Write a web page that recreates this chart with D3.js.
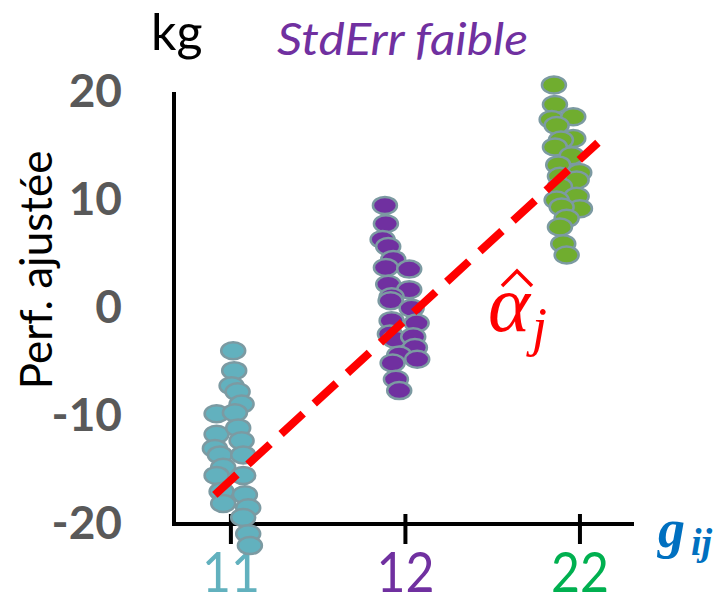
<!DOCTYPE html>
<html>
<head>
<meta charset="utf-8">
<script src="https://cdn.jsdelivr.net/npm/d3@7"></script>
<style>
  body { margin: 0; background: #fff; }
  text { font-family: Lato, "Open Sans", sans-serif; }
</style>
</head>
<body>
<svg id="chart"></svg>
<script>
// groups on the x axis
const groups = ["11", "12", "22"];
const groupColors = ["#62b1be", "#7030a0", "#70ad2f"];
const labelColors = ["#62b1be", "#7030a0", "#00b050"];
const yTicks = [-20, -10, 0, 10, 20];

// jitter (px offset from the group tick) and adjusted perf per group
const g11Dx = [2.3, 3.3, 0.7, 6.7, 10.7, -14.3, 4, -14.3, 7.3, -16, 10.7, -11, 12.3, -7.7, -14.3, 12.3, -9.3, 14, -7.7, 17.3, 12.3, 17.3, 19];
const g11Val = [-3.95, -5.8, -7.2, -7.75, -8.9, -9.8, -9.7, -11.7, -11.1, -13.0, -12.3, -13.6, -13.6, -14.75, -15.5, -15.5, -17.0, -17.3, -18.1, -18.5, -19.4, -20.9, -22.0];
const g12Dx = [-20.5, -19.5, -22.8, -17.2, -12.2, -19.5, 3.8, -17.2, 3.8, -13.8, -14.8, 6.2, -13.8, 11.2, -15.5, -10.5, 7.8, 9.5, -6.2, 11.8, -12.8, -9.5, -6.2];
const g12Val = [9.5, 7.8, 6.35, 5.7, 4.5, 3.75, 3.6, 2.2, 1.7, 1.05, 0.68, -0.03, -1.17, -1.4, -2.4, -2.9, -2.66, -3.65, -4.35, -4.75, -5.1, -6.6, -7.65];
const g22Dx = [-26, -25, -28.3, -6.7, -23.3, -6.7, -19, -25, -8.3, -21.7, -0.7, -20, -3.3, -20, -3.3, -23.3, 0, -18.3, -13.3, -20, -16.7, -13.3];
const g22Val = [20.65, 18.85, 17.45, 17.7, 16.9, 15.7, 15.55, 14.9, 14.1, 13.25, 12.55, 12.2, 11.85, 11.25, 10.35, 10.0, 9.2, 9.35, 8.3, 7.5, 5.95, 4.9];

// fitted slope line (group position, value)
const lineX = [0.908, 3.103];
const lineY = [-17.3, 15.3];

const width = 723, height = 592;
const svg = d3.select("#chart").attr("width", width).attr("height", height);

const x = d3.scaleLinear().domain([0.674, 3.304]).range([174, 633]);
const y = d3.scaleLinear().domain([-20, 20]).range([524, 92]);
const pxPerUnit = x(2) - x(1);

let points = [];
[[g11Dx, g11Val], [g12Dx, g12Val], [g22Dx, g22Val]].forEach(function (pair, gi) {
  pair[0].forEach(function (dx, i) {
    points.push({ pos: gi + 1 + dx / pxPerUnit, val: pair[1][i], g: gi });
  });
});

// y axis: labels only plus a plain line
const yAxis = svg.append("g")
  .attr("transform", "translate(174,0)")
  .call(d3.axisLeft(y).tickValues(yTicks).tickSize(0).tickPadding(52).tickFormat((d) => String(d)));
yAxis.select(".domain").remove();
yAxis.selectAll("text")
  .attr("font-size", "46px")
  .attr("font-weight", "bold")
  .attr("fill", "#595959")
  .style("font-family", "Lato, sans-serif");

svg.append("line")
  .attr("x1", 174).attr("x2", 174)
  .attr("y1", y(20)).attr("y2", y(-20) + 2)
  .attr("stroke", "#000").attr("stroke-width", 4);

// x axis
svg.append("line")
  .attr("x1", 172).attr("x2", 634)
  .attr("y1", y(-20)).attr("y2", y(-20))
  .attr("stroke", "#000").attr("stroke-width", 4);
svg.selectAll(".xtick")
  .data(groups)
  .enter()
  .append("line")
  .attr("class", "xtick")
  .attr("x1", (d, i) => x(i + 1)).attr("x2", (d, i) => x(i + 1))
  .attr("y1", y(-20) - 10).attr("y2", y(-20) + 20)
  .attr("stroke", "#000").attr("stroke-width", 4);
svg.selectAll(".xlabel")
  .data(groups)
  .enter()
  .append("text")
  .attr("class", "xlabel")
  .attr("x", (d, i) => x(i + 1))
  .attr("y", 592)
  .attr("text-anchor", "middle")
  .attr("font-size", "56px")
  .attr("textLength", 58)
  .attr("lengthAdjust", "spacingAndGlyphs")
  .attr("fill", (d, i) => labelColors[i])
  .text((d) => d);

// dots
svg.selectAll(".dot")
  .data(points)
  .enter()
  .append("ellipse")
  .attr("class", "dot")
  .attr("cx", (d) => x(d.pos))
  .attr("cy", (d) => y(d.val))
  .attr("rx", 12)
  .attr("ry", 8.5)
  .attr("fill", (d) => groupColors[d.g])
  .attr("stroke", "#7c9aa2")
  .attr("stroke-width", 2.5);

// dashed fit line
svg.append("line")
  .attr("x1", x(lineX[0])).attr("y1", y(lineY[0]))
  .attr("x2", x(lineX[1])).attr("y2", y(lineY[1]))
  .attr("stroke", "#ff0000")
  .attr("stroke-width", 8)
  .attr("stroke-dasharray", "30,15");

// alpha hat j
const alpha = svg.append("text")
  .attr("x", 488).attr("y", 331)
  .attr("fill", "#ff0000")
  .style("font-family", "'Liberation Serif', serif")
  .style("font-style", "italic")
  .attr("font-size", "80px");
alpha.append("tspan").text("α");
alpha.append("tspan").attr("dx", 2).attr("dy", 14).attr("font-size", "54px").text("j");
svg.append("path")
  .attr("d", "M502,286 L517,271 L532,286")
  .attr("fill", "none")
  .attr("stroke", "#ff0000")
  .attr("stroke-width", 3.5);

// g_ij
const gij = svg.append("text")
  .attr("x", 658).attr("y", 547)
  .attr("fill", "#0070c0")
  .style("font-family", "'Liberation Serif', serif")
  .style("font-style", "italic")
  .attr("font-weight", "bold")
  .attr("font-size", "54px");
gij.append("tspan").text("g");
gij.append("tspan").attr("dx", 6).attr("dy", 8).attr("font-size", "38px").text("ij");

// titles
svg.append("text")
  .attr("x", 151).attr("y", 50)
  .attr("font-size", "50px")
  .attr("fill", "#000")
  .text("kg");
svg.append("text")
  .attr("x", 277).attr("y", 55)
  .attr("font-size", "44px")
  .attr("textLength", 251)
  .attr("lengthAdjust", "spacingAndGlyphs")
  .style("font-style", "italic")
  .attr("fill", "#7030a0")
  .text("StdErr faible");
svg.append("text")
  .attr("transform", "translate(52,270) rotate(-90)")
  .attr("text-anchor", "middle")
  .attr("font-size", "44px")
  .attr("fill", "#000")
  .text("Perf. ajustée");
</script>
</body>
</html>
